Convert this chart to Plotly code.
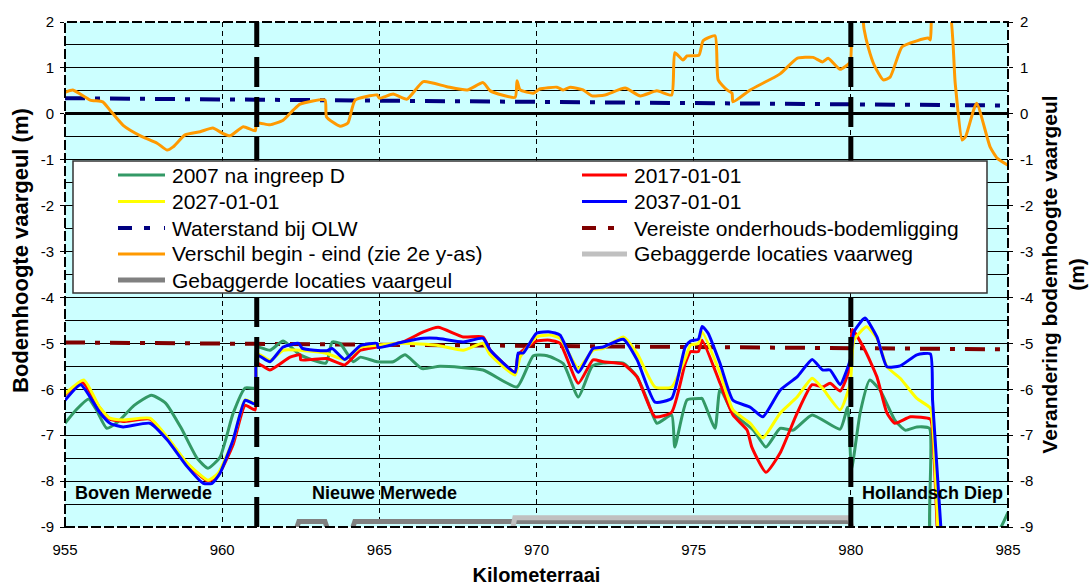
import plotly.graph_objects as go

# ---------------------------------------------------------------- data ----
# bed level of the fairway (m) per kilometre, four moments in time
km_2007 = [955.0, 955.35, 955.75, 956.0, 956.33, 956.7, 957.2, 957.75, 958.2, 958.7,
           959.2, 959.55, 959.93, 960.35, 960.73, 961.05, 961.1, 961.52, 961.94, 962.48,
           963.3, 963.5, 963.75, 964.17, 964.4, 964.93, 965.44, 965.82, 966.36, 966.93,
           968.3, 969.38, 969.9, 970.34, 970.85, 971.33, 971.77, 972.12, 972.76, 973.2,
           973.52, 973.83, 974.3, 974.4, 974.79, 975.2, 975.27, 975.68, 975.84, 976.25,
           976.9, 977.3, 977.75, 978.17, 978.77, 979.66, 979.9, 980.02, 980.3, 980.6,
           980.93, 981.4, 981.73, 982.1, 982.5, 982.62, 984.5, 985.0]
bh_2007 = [-6.74, -6.45, -6.21, -6.45, -6.85, -6.7, -6.35, -6.13, -6.3, -6.85,
           -7.5, -7.72, -7.48, -6.52, -5.97, -5.97, -5.08, -5.15, -4.95, -5.25,
           -5.43, -4.97, -5.0, -5.4, -5.3, -5.4, -5.4, -5.25, -5.55, -5.5,
           -5.58, -5.95, -5.27, -5.27, -5.44, -6.17, -5.5, -5.43, -5.43, -5.73,
           -6.23, -6.74, -6.56, -7.26, -6.23, -6.2, -6.2, -6.85, -6.0, -6.52,
           -6.89, -7.26, -6.85, -6.89, -6.56, -6.87, -6.39, -7.75, -6.5, -5.8,
           -6.02, -6.67, -6.89, -6.82, -6.85, -9.6, -9.3, -8.68]

km_2017 = [955.0, 955.55, 956.1, 956.43, 956.85, 957.7, 958.25, 958.88, 959.55, 959.87,
           960.35, 960.73, 961.05, 961.1, 961.52, 962.16, 962.48, 962.5, 963.33, 963.9,
           964.4, 964.93, 965.75, 966.4, 966.87, 967.67, 968.3, 968.53, 969.32, 969.42,
           970.0, 970.43, 970.75, 971.33, 971.8, 972.12, 972.76, 973.2, 973.77, 974.3,
           974.73, 974.9, 975.15, 975.27, 975.84, 976.25, 976.7, 976.85, 977.3, 977.75,
           978.29, 978.77, 979.1, 979.34, 979.66, 979.98, 980.05, 980.45, 980.83, 981.15,
           981.4, 981.9, 982.53, 982.6, 982.78]
bh_2017 = [-6.12, -5.85, -6.4, -6.65, -6.7, -6.65, -7.06, -7.62, -8.0, -7.88,
           -7.2, -6.35, -6.45, -5.43, -5.58, -5.3, -5.25, -5.36, -5.33, -5.47,
           -5.15, -5.08, -4.97, -4.75, -4.65, -4.86, -4.86, -5.15, -5.63, -5.25,
           -4.95, -4.93, -5.0, -5.87, -5.36, -5.4, -5.45, -5.73, -6.6, -6.5,
           -5.44, -5.18, -5.18, -4.93, -5.87, -6.56, -6.89, -7.26, -7.81, -7.39,
           -6.52, -5.9, -5.95, -5.87, -6.04, -5.51, -4.7, -5.15, -5.73, -6.52,
           -6.74, -6.6, -6.65, -6.9, -9.6]

km_2027 = [955.0, 955.6, 956.1, 956.43, 956.85, 957.7, 958.25, 958.88, 959.55, 959.87,
           960.35, 960.73, 961.05, 961.1, 961.52, 961.94, 962.48, 963.33, 963.9, 964.4,
           964.93, 965.75, 966.83, 967.67, 968.3, 968.53, 969.32, 969.48, 970.0, 970.43,
           970.75, 971.33, 971.8, 972.12, 972.76, 973.2, 973.77, 974.3, 974.73, 974.9,
           975.15, 975.27, 975.84, 976.25, 976.8, 977.2, 977.75, 978.29, 978.77, 979.1,
           979.66, 979.98, 980.1, 980.5, 980.83, 981.15, 981.57, 982.1, 982.53, 982.62,
           982.8]
bh_2027 = [-6.1, -5.8, -6.39, -6.63, -6.67, -6.63, -7.04, -7.6, -7.98, -7.83,
           -7.1, -6.23, -6.3, -5.22, -5.37, -5.15, -5.15, -5.22, -5.35, -5.08,
           -5.04, -5.0, -5.04, -5.15, -5.0, -5.25, -5.69, -5.3, -4.86, -4.82,
           -4.89, -5.54, -5.15, -5.11, -4.86, -5.22, -5.95, -5.95, -5.33, -5.04,
           -5.0, -4.75, -5.65, -6.45, -6.74, -7.06, -6.52, -6.17, -5.76, -5.98,
           -6.45, -5.87, -4.93, -4.64, -4.89, -5.51, -5.76, -6.2, -6.41, -6.9,
           -9.6]

km_2037 = [955.0, 955.5, 956.1, 956.43, 956.85, 957.7, 958.25, 958.88, 959.4, 959.68,
           959.93, 960.35, 960.73, 961.05, 961.1, 961.52, 961.94, 962.43, 962.55, 963.33,
           963.5, 963.9, 964.4, 964.93, 964.96, 965.75, 966.4, 966.83, 967.67, 968.3,
           968.53, 969.32, 969.42, 969.58, 970.0, 970.43, 970.75, 971.33, 971.8, 972.12,
           972.76, 973.2, 973.77, 974.3, 974.73, 974.9, 975.15, 975.27, 975.46, 975.84,
           976.25, 976.8, 977.2, 977.75, 978.29, 978.77, 979.1, 979.34, 979.66, 979.98,
           980.1, 980.45, 980.83, 981.15, 981.57, 982.1, 982.53, 982.6, 982.92]
bh_2037 = [-6.24, -5.9, -6.5, -6.74, -6.82, -6.74, -7.1, -7.68, -8.05, -8.05,
           -7.83, -7.1, -6.24, -6.32, -5.25, -5.4, -5.08, -5.0, -5.11, -5.16,
           -5.11, -5.35, -5.05, -5.0, -5.09, -4.97, -4.89, -4.89, -4.97, -4.89,
           -5.15, -5.63, -5.21, -5.21, -4.78, -4.75, -4.82, -5.63, -5.11, -5.08,
           -4.91, -5.36, -6.28, -6.2, -5.08, -4.95, -4.91, -4.63, -4.78, -5.44,
           -6.24, -6.39, -6.6, -6.02, -5.73, -5.35, -5.58, -5.58, -5.9, -5.36,
           -4.75, -4.45, -4.86, -5.51, -5.49, -5.25, -5.23, -6.24, -9.6]

# change in bed level between begin and end (second y-axis)
km_verschil = [955.0, 955.25, 955.8, 956.2, 956.43, 956.85, 957.4, 957.93, 958.25, 958.44,
               958.82, 959.3, 959.7, 960.0, 960.25, 960.67, 961.05, 961.1, 961.52, 961.94,
               962.26, 962.48, 963.27, 963.32, 963.75, 964.0, 964.23, 964.93, 965.0, 965.44,
               965.88, 966.4, 967.15, 967.8, 968.3, 968.53, 969.32, 969.38, 969.48, 969.9,
               970.1, 970.65, 970.85, 971.07, 971.48, 971.77, 972.18, 972.82, 973.3, 973.83,
               974.3, 974.4, 974.66, 974.79, 975.17, 975.3, 975.68, 975.78, 976.06, 976.22,
               976.25, 976.8, 977.75, 978.29, 978.8, 979.1, 979.28, 979.66, 979.98, 980.05,
               980.3, 980.42, 980.55, 980.75, 981.03, 981.25, 981.63, 982.1, 982.46, 982.53,
               982.62, 983.1, 983.32, 983.54, 983.65, 984.0, 984.43, 984.66, 985.0]
verschil = [0.47, 0.52, 0.3, 0.26, 0.08, -0.25, -0.48, -0.64, -0.79, -0.72,
            -0.46, -0.39, -0.31, -0.42, -0.48, -0.28, -0.37, -0.2, -0.24, -0.14,
            0.08, 0.21, 0.3, -0.07, -0.27, -0.2, 0.3, 0.41, 0.34, 0.43,
            0.32, 0.7, 0.59, 0.52, 0.68, 0.5, 0.36, 0.72, 0.52, 0.45,
            0.54, 0.58, 0.52, 0.58, 0.52, 0.39, 0.41, 0.56, 0.39, 0.5,
            0.41, 1.33, 1.17, 1.26, 1.28, 1.59, 1.7, 0.74, 0.52, 0.45,
            0.26, 0.52, 0.87, 1.21, 1.23, 1.13, 1.21, 0.97, 1.13, 2.5,
            2.5, 1.85, 1.46, 1.05, 0.74, 0.8, 1.46, 1.59, 1.65, 1.61,
            2.4, 2.4, 0.67, -0.57, -0.5, 0.23, -0.72, -0.97, -1.12]

# water level at OLW and required maintenance bed level
km_olw = [955, 960, 965, 970, 975, 980, 985]
olw = [0.34, 0.31, 0.29, 0.26, 0.24, 0.21, 0.18]
km_vereist = [955, 985]
vereist = [-4.98, -5.13]

# dredged stretches (km from, km to) and the level they are drawn at
gebaggerd_vaargeul = [(962.38, 963.33), (964.16, 980.02)]
gebaggerd_vaarweg = [(969.25, 980.02)]
niveau_vaargeul = -8.88
niveau_vaarweg = -8.8
bodem = -9.0

# river stretches and section boundaries
trajecten = [("Boven Merwede", 957.5), ("Nieuwe Merwede", 965.15), ("Hollandsch Diep", 982.6)]
trajectgrenzen = [961.1, 980.0]

# axis ticks
km_ticks = [955, 960, 965, 970, 975, 980, 985]
h_ticks = [-9, -8, -7, -6, -5, -4, -3, -2, -1, 0, 1, 2]

# ------------------------------------------------------------- styling ----
FONT = "Arial, Liberation Sans, sans-serif"
GREEN, RED, YELLOW, BLUE = "#339966", "#FF0000", "#FFFF00", "#0000FF"
NAVY, DARKRED, ORANGE = "#000080", "#800000", "#FF9900"
GRAY, SILVER = "#808080", "#C0C0C0"
DASHDOT = "20px,10px,5px,10px"

W, H = 1089, 586
L, R, T, B = 65, 81, 22, 59
PW, PH = W - L - R, H - T - B


def px(xp):
    return (xp - L) / PW


def py(yp):
    return (H - B - yp) / PH


def steps(ranges, level):
    xs, ys = [], []
    for a, b in ranges:
        xs += [a, a + 0.06, b - 0.06, b, None]
        ys += [bodem, level, level, bodem, None]
    return xs, ys


SMOOTH = dict(shape="spline", smoothing=0.5)

fig = go.Figure()

fig.add_trace(go.Scatter(x=km_vereist, y=vereist, mode="lines",
                         line=dict(color=DARKRED, width=4, dash=DASHDOT),
                         name="Vereiste onderhouds-bodemligging"))
fig.add_trace(go.Scatter(x=km_olw, y=olw, mode="lines",
                         line=dict(color=NAVY, width=4, dash=DASHDOT),
                         name="Waterstand bij OLW"))
for xs, ys, c, n in [(km_2007, bh_2007, GREEN, "2007 na ingreep D"),
                     (km_2017, bh_2017, RED, "2017-01-01"),
                     (km_2027, bh_2027, YELLOW, "2027-01-01"),
                     (km_2037, bh_2037, BLUE, "2037-01-01")]:
    fig.add_trace(go.Scatter(x=xs, y=ys, mode="lines", line=dict(color=c, width=3, **SMOOTH),
                             name=n))

gx, gy = steps(gebaggerd_vaargeul, niveau_vaargeul)
fig.add_trace(go.Scatter(x=gx, y=gy, mode="lines", line=dict(color=GRAY, width=5),
                         name="Gebaggerde locaties vaargeul"))
sx, sy = steps(gebaggerd_vaarweg, niveau_vaarweg)
fig.add_trace(go.Scatter(x=sx, y=sy, mode="lines", line=dict(color=SILVER, width=5),
                         name="Gebaggerde locaties vaarweg"))

fig.add_trace(go.Scatter(x=km_verschil, y=verschil, mode="lines", yaxis="y2",
                         line=dict(color=ORANGE, width=3, **SMOOTH),
                         name="Verschil begin - eind (zie 2e y-as)"))

shapes = []
# section boundaries
for g in trajectgrenzen:
    shapes.append(dict(type="line", xref="x", yref="paper", x0=g, x1=g, y0=0, y1=1,
                       line=dict(color="black", width=5, dash="30px,10px"), layer="above"))
# plot frame
shapes.append(dict(type="rect", xref="paper", yref="paper", x0=0, x1=1, y0=0, y1=1,
                   line=dict(color="black", width=2, dash="10px,3px"), layer="above"))

# legend box
shapes.append(dict(type="rect", xref="paper", yref="paper", x0=px(73), x1=px(987),
                   y0=py(293), y1=py(161), fillcolor="white",
                   line=dict(color="#333333", width=1.5), layer="above"))

legend_items = [
    ("2007 na ingreep D", GREEN, 3, "solid"),
    ("2017-01-01", RED, 3, "solid"),
    ("2027-01-01", YELLOW, 3, "solid"),
    ("2037-01-01", BLUE, 3, "solid"),
    ("Waterstand bij OLW", NAVY, 4, "14px,12px,6px"),
    ("Vereiste onderhouds-bodemligging", DARKRED, 4, "14px,12px,6px"),
    ("Verschil begin - eind (zie 2e y-as)", ORANGE, 3, "solid"),
    ("Gebaggerde locaties vaarweg", SILVER, 5, "solid"),
    ("Gebaggerde locaties vaargeul", GRAY, 5, "solid"),
]
col_line = [(118, 165), (582, 627)]
col_text = [170, 632]
row_y = [175, 201.5, 228, 254, 280]

annotations = []
for i, (label, c, w, d) in enumerate(legend_items):
    col, row = i % 2, i // 2
    yy = py(row_y[row])
    shapes.append(dict(type="line", xref="paper", yref="paper",
                       x0=px(col_line[col][0]), x1=px(col_line[col][1]), y0=yy, y1=yy,
                       line=dict(color=c, width=w, dash=d), layer="above"))
    annotations.append(dict(xref="paper", yref="paper", x=px(col_text[col]), y=yy,
                            text=label, showarrow=False, xanchor="left", yanchor="middle",
                            font=dict(family=FONT, size=21, color="black")))

for naam, kmpos in trajecten:
    annotations.append(dict(xref="x", yref="y", x=kmpos, y=-8.27, text=naam,
                            showarrow=False, xanchor="center", yanchor="middle",
                            font=dict(family=FONT, size=18, color="black", weight="bold")))

# left axis title, set slightly above the middle of the plot
annotations.append(dict(xref="paper", yref="paper", x=px(21), y=py(251),
                        text="Bodemhoogte vaargeul (m)", textangle=-90, showarrow=False,
                        xanchor="center", yanchor="middle",
                        font=dict(family=FONT, size=22, color="black", weight="bold")))

fig.update_layout(
    width=W, height=H,
    margin=dict(l=L, r=R, t=T, b=B, autoexpand=False),
    paper_bgcolor="white",
    plot_bgcolor="#CCFFFF",
    showlegend=False,
    font=dict(family=FONT, color="black"),
    shapes=shapes,
    annotations=annotations,
    xaxis=dict(range=[955, 985], tickvals=km_ticks, ticktext=[str(v) for v in km_ticks],
               showgrid=True, gridcolor="black",
               gridwidth=1, griddash="5px,4px", zeroline=False, showline=False,
               ticks="", ticklabelstandoff=12, tickfont=dict(size=15),
               title=dict(text="Kilometerraai", standoff=20,
                          font=dict(size=20, weight="bold"))),
    yaxis=dict(range=[-9, 2], tickvals=h_ticks, ticktext=[str(v) for v in h_ticks],
               showgrid=True, gridcolor="black",
               gridwidth=1, zeroline=True, zerolinecolor="black", zerolinewidth=3,
               minor=dict(dtick=0.5, tick0=-9, showgrid=True, gridcolor="black", gridwidth=1),
               showline=False, ticks="outside", ticklen=4, tickcolor="black",
               tickfont=dict(size=15), ticklabelstandoff=3),
    yaxis2=dict(range=[-9, 2], tickvals=h_ticks, ticktext=[str(v) for v in h_ticks],
                overlaying="y", side="right",
                showgrid=False, zeroline=False, showline=False, ticks="outside",
                ticklen=4, tickcolor="black", tickfont=dict(size=15), ticklabelstandoff=4,
                title=dict(text="Verandering bodemhoogte vaargeul<br>(m)", standoff=9,
                           font=dict(size=21, weight="bold"))),
)

fig.write_html("out.html")
